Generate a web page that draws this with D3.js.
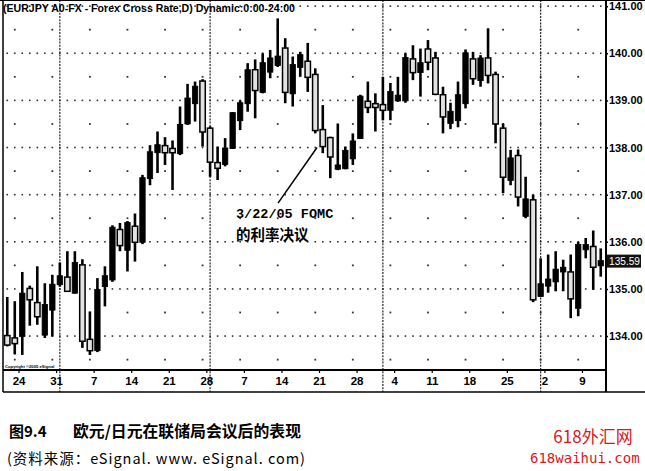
<!DOCTYPE html>
<html><head><meta charset="utf-8">
<script src="https://cdn.jsdelivr.net/npm/d3@7"></script>
<style>
body{margin:0;background:#fff;}
svg{display:block;}
</style></head>
<body><svg id="c" width="645" height="471"></svg>
<script>
// ---- data ----
const startDate = "2005-01-20";
const opens  = [134.00,133.95,134.00,135.00,134.70,134.03,134.56,135.10,135.24,134.92,135.50,133.92,133.70,135.06,135.20,136.25,135.83,136.32,136.00,137.35,137.90,138.03,137.97,137.88,138.51,138.94,139.40,138.40,137.67,137.65,137.99,138.58,138.94,139.64,139.18,139.61,139.75,140.10,139.15,139.71,139.82,139.54,138.37,138.20,137.55,137.56,137.77,138.20,138.97,138.92,138.90,138.80,139.00,139.00,139.87,139.60,140.08,139.89,139.11,138.52,138.58,138.94,139.87,139.43,139.89,139.54,138.40,137.31,137.82,136.55,136.88,134.85,135.07,135.16,135.37,135.35,134.60,135.84,135.89,135.50];
const highs  = [134.83,134.74,135.36,135.07,135.48,135.12,135.30,135.56,135.80,135.80,135.63,134.52,135.23,135.48,136.35,136.40,136.44,136.60,137.42,138.05,138.34,138.22,138.15,138.87,139.35,139.40,139.45,138.45,138.02,138.20,138.75,139.00,139.79,139.87,140.00,140.07,140.74,140.32,139.93,140.03,140.22,139.68,138.90,138.23,138.51,138.02,138.30,139.12,139.40,139.15,139.50,139.37,139.50,140.00,140.17,140.10,140.28,140.03,139.29,138.95,139.40,140.08,140.03,139.96,140.53,139.61,138.51,137.95,137.96,137.38,137.00,135.65,135.73,135.80,135.62,135.73,136.00,136.08,136.24,135.86];
const lows   = [133.78,133.61,133.60,134.22,134.24,133.96,133.99,135.05,134.94,134.90,133.75,133.60,133.66,134.63,135.15,135.80,135.37,135.58,135.95,137.20,137.46,137.63,137.10,137.84,138.48,138.55,138.02,137.38,137.31,137.60,137.97,138.37,138.76,138.62,139.15,139.47,139.71,138.94,138.87,139.50,139.18,138.30,137.88,137.35,137.52,137.54,137.63,138.18,138.73,138.34,138.58,138.58,138.97,138.95,139.43,139.08,139.64,139.11,138.30,138.39,138.43,138.83,139.33,139.29,139.36,138.09,137.03,137.20,136.75,136.50,134.72,134.84,134.92,134.95,134.95,134.38,134.42,135.65,134.98,135.26];
const closes = [133.82,133.85,134.90,134.78,134.42,134.66,135.09,135.27,134.96,135.55,133.90,133.70,134.98,135.27,136.30,135.93,136.40,136.00,137.35,137.90,138.05,137.90,137.90,138.48,139.04,139.29,138.34,137.70,137.57,137.98,138.73,138.94,139.64,139.22,139.79,139.89,139.93,139.18,139.75,139.96,139.50,138.37,138.03,137.81,137.62,137.93,138.13,139.08,138.86,138.86,138.80,139.18,139.10,139.90,139.60,139.79,139.82,139.14,138.66,138.76,139.11,140.00,139.47,139.89,139.54,138.51,137.38,137.77,136.96,136.90,134.78,135.10,135.20,135.41,135.45,134.80,135.93,135.93,135.47,135.59];
const priceTicks = [134,135,136,137,138,139,140,141];
const title = "(EURJPY A0-FX - Forex Cross Rate,D) Dynamic:0:00-24:00";
const annotation = {date:"2005-03-21", price:138.0, lines:["3/22/05 FOMC","的利率决议"]};
const captionTitle = ["图9.4","欧元/日元在联储局会议后的表现"];
const captionSource = "(资料来源：eSignal. www. eSignal. com)";
const watermark = ["618外汇网","618waihui.com"];

// ---- build dates (weekdays) ----
const n = opens.length;
const dates = [];
{ let d = d3.timeParse("%Y-%m-%d")(startDate);
  while (dates.length < n) { const wd = d.getDay(); if (wd!==0 && wd!==6) dates.push(new Date(d)); d = d3.timeDay.offset(d,1); } }
const fmtKey = d3.timeFormat("%Y-%m-%d");
const bars = d3.range(n).map(i=>({i, date:dates[i], o:opens[i], h:highs[i], l:lows[i], c:closes[i]}));

const svg = d3.select("#c");
const L=3.5, R=604.5, T=0, B=370;
const x = d3.scaleBand().domain(d3.range(n)).range([L,R]);
const xl = d3.scaleLinear().domain([0,n]).range([L,R]);
const cx = i => x(i)+x.bandwidth()/2;
const y = d3.scaleLinear().domain([133.28,141.13]).range([B,T]);
const sans = "Liberation Sans, Arial, sans-serif";

svg.append("rect").attr("width",645).attr("height",471).attr("fill","#fff");

// grid dots
const g = svg.append("g");
priceTicks.forEach(p=>{
  bars.forEach(b=>{ g.append("rect").attr("x",cx(b.i)-0.8).attr("y",y(p)-0.8).attr("width",1.6).attr("height",1.6).attr("fill","#333"); });
});
const halfs = d3.range(133.5,141,1);
halfs.forEach(p=>{
  bars.filter(b=>b.date.getDay()===5).forEach(b=>{ g.append("rect").attr("x",cx(b.i)-0.9).attr("y",y(p)-0.9).attr("width",1.8).attr("height",1.8).attr("fill","#333"); });
});

// month separator lines (last bar of month)
bars.filter((b,k)=>k<n-1 && bars[k+1].date.getMonth()!==b.date.getMonth()).forEach(b=>{
  svg.append("line").attr("x1",cx(b.i)).attr("x2",cx(b.i)).attr("y1",0).attr("y2",392)
    .attr("stroke","#222").attr("stroke-width",1.2).attr("stroke-dasharray","2,1.2");
});

// candles
const cg = svg.append("g");
const bw = 5.4;
cg.selectAll("line.w").data(bars).join("line")
  .attr("x1",d=>cx(d.i)).attr("x2",d=>cx(d.i)).attr("y1",d=>y(d.h)).attr("y2",d=>y(d.l))
  .attr("stroke","#000").attr("stroke-width",2.6);
cg.selectAll("rect.b").data(bars).join("rect")
  .attr("x",d=>cx(d.i)-bw/2).attr("width",bw)
  .attr("y",d=>y(Math.max(d.o,d.c))-0.5)
  .attr("height",d=>Math.max(2,Math.abs(y(d.o)-y(d.c))+1))
  .attr("fill",d=>d.c>=d.o?"#000":"#e2e2e2")
  .attr("stroke","#000").attr("stroke-width",d=>d.c>=d.o?0.8:1.5);

// frame
svg.append("line").attr("x1",3).attr("x2",3).attr("y1",0).attr("y2",392).attr("stroke","#000").attr("stroke-width",1.5);
svg.append("line").attr("x1",606).attr("x2",606).attr("y1",0).attr("y2",392).attr("stroke","#000").attr("stroke-width",2);
svg.append("line").attr("x1",3).attr("x2",606).attr("y1",B).attr("y2",B).attr("stroke","#000").attr("stroke-width",2);
svg.append("line").attr("x1",3).attr("x2",645).attr("y1",392).attr("y2",392).attr("stroke","#000").attr("stroke-width",1.5);
svg.append("line").attr("x1",0).attr("x2",645).attr("y1",0.5).attr("y2",0.5).attr("stroke","#000").attr("stroke-width",1);

// title
svg.append("text").attr("x",3).attr("y",12).text(title)
  .attr("font-family",sans).attr("font-weight","bold").attr("font-size",11)
  .attr("textLength",292).attr("lengthAdjust","spacingAndGlyphs");

// right axis
const ya = svg.append("g").attr("transform","translate(606,0)")
  .call(d3.axisRight(y).tickValues(priceTicks).tickFormat(d3.format(".2f")).tickSize(2));
ya.select(".domain").remove();
ya.selectAll("text").attr("x",3).attr("font-family",sans).attr("font-weight","bold").attr("font-size",11).attr("fill","#000");
ya.selectAll("line").attr("stroke","#000").attr("stroke-width",1.5);

// last price box
const last = bars[n-1];
svg.append("rect").attr("x",607).attr("y",y(last.c)-6.5).attr("width",34).attr("height",13).attr("fill","#111");
svg.append("text").attr("x",609).attr("y",y(last.c)).attr("dy","0.35em").text(d3.format(".2f")(last.c))
  .attr("fill","#fff").attr("font-family",sans).attr("font-size",10.5)
  .attr("textLength",31).attr("lengthAdjust","spacingAndGlyphs");

// bottom axis
const mondays = bars.filter(b=>b.date.getDay()===1).map(b=>b.i);
const xa = svg.append("g").attr("transform",`translate(0,${B})`)
  .call(d3.axisBottom(xl).tickValues(mondays).tickFormat(i=>d3.timeFormat("%-d")(dates[i])).tickSize(3));
xa.select(".domain").remove();
xa.selectAll("text").attr("y",7).attr("dy","0.71em").attr("font-family",sans).attr("font-weight","bold").attr("font-size",11.5).attr("fill","#000");
xa.selectAll("line").attr("stroke","#000").attr("stroke-width",1.2);

// copyright tiny
svg.append("text").attr("x",5).attr("y",368).text("Copyright ©2005 eSignal")
  .attr("font-family",sans).attr("font-weight","bold").attr("font-size",4.2);

// annotation
const ai = bars.find(b=>fmtKey(b.date)===annotation.date).i;
const tipX = x(ai)-2, tipY = y(annotation.price);
svg.append("line").attr("x1",tipX-39).attr("y1",y(annotation.price-1.18)).attr("x2",tipX).attr("y2",tipY)
  .attr("stroke","#000").attr("stroke-width",1.5);
svg.append("text").attr("x",tipX-81).attr("y",y(annotation.price-1.5)).text(annotation.lines[0])
  .attr("font-family","Liberation Mono, monospace").attr("font-weight","bold").attr("font-size",13.5);
svg.append("text").attr("x",tipX-81).attr("y",y(annotation.price-1.96)).text(annotation.lines[1])
  .attr("font-family","Noto Sans CJK SC").attr("font-weight","bold").attr("font-size",14.5);

// caption
svg.append("text").attr("x",9).attr("y",437).text(captionTitle[0])
  .attr("font-family","Noto Sans CJK SC").attr("font-weight","bold").attr("font-size",15);
svg.append("text").attr("x",73).attr("y",437).text(captionTitle[1])
  .attr("font-family","Noto Sans CJK SC").attr("font-weight","bold").attr("font-size",15.5)
  .attr("textLength",228).attr("lengthAdjust","spacingAndGlyphs");
svg.append("text").attr("x",7).attr("y",464).text(captionSource)
  .attr("font-family","Noto Sans CJK SC").attr("font-size",14.5)
  .attr("textLength",298).attr("lengthAdjust","spacing");

// watermark
svg.append("text").attr("x",593).attr("y",443).attr("text-anchor","middle").text(watermark[0])
  .attr("font-family","Noto Sans CJK SC").attr("font-size",17).attr("fill","#d7191c");
svg.append("text").attr("x",530).attr("y",463).text(watermark[1])
  .attr("font-family","DejaVu Sans Mono, monospace").attr("font-size",14).attr("fill","#d7191c");
</script></body></html>
